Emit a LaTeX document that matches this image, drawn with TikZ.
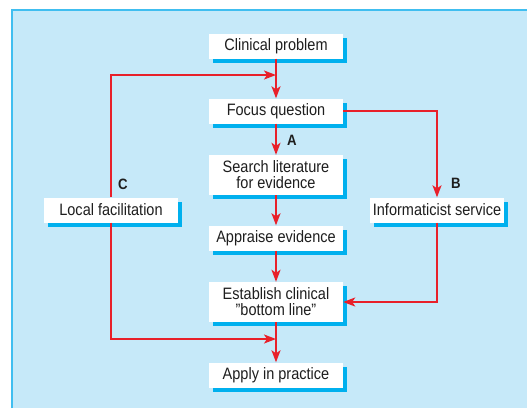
\documentclass[tikz,border=0pt]{standalone}
\usepackage{fontspec}
\setmainfont[FakeStretch=0.88]{Liberation Sans}
\usetikzlibrary{arrows.meta,shadows}
\definecolor{panelblue}{RGB}{198,233,249}
\definecolor{edgeblue}{RGB}{64,190,240}
\definecolor{shadeblue}{RGB}{0,176,238}
\definecolor{flowred}{RGB}{232,32,42}
\definecolor{inkgrey}{RGB}{30,30,30}
\begin{document}
\begin{tikzpicture}[x=1pt, y=-1pt,
    box/.style = {fill=white, text=inkgrey, align=center, minimum width=134pt, minimum height=25pt,
                  inner sep=0pt, font=\fontsize{16.5}{16}\selectfont,
                  drop shadow={shadow xshift=4pt, shadow yshift=-4pt, fill=shadeblue, opacity=1}},
    tall/.style = {minimum height=40pt},
    flow/.style = {draw=flowred, line width=1.8pt, -{Stealth[length=12pt, width=9pt, inset=3pt]}},
    lab/.style = {text=inkgrey, font=\fontsize{15}{15}\selectfont\bfseries, inner sep=0pt}]
  \useasboundingbox (0,0) rectangle (527,408);
  \fill[panelblue] (12,10) rectangle (527,408);
  \draw[edgeblue, line width=2pt] (12,408) -- (12,10) -- (527,10);

  \node[box] (cp) at (276,46) {Clinical problem};
  \node[box] (fq) at (276,111) {Focus question};
  \node[box, tall] (sl) at (276,175) {Search literature\\for evidence};
  \node[box] (ae) at (276,238) {Appraise evidence};
  \node[box, tall] (ec) at (276,302) {Establish clinical\\\char"22 bottom line\char"22};
  \node[box] (ap) at (276,375) {Apply in practice};
  \node[box, minimum width=134pt] (lf) at (111,210) {Local facilitation};
  \node[box, minimum width=134pt] (is) at (437,210) {Informaticist service};

  \coordinate (jt) at (276,75);
  \coordinate (jb) at (276,339);

  \draw[flow] (cp) -- (fq);
  \draw[flow] (fq) -- (sl);
  \draw[flow] (sl) -- (ae);
  \draw[flow] (ae) -- (ec);
  \draw[flow] (ec) -- (ap);
  \draw[flow] (lf) |- (jt);
  \draw[flow] (lf) |- (jb);
  \draw[flow] (fq) -| (is);
  \draw[flow] (is) |- (ec);

  \node[lab] (la) at (292,140) {A};
  \node[lab] (lb) at (456,183) {B};
  \node[lab] (lc) at (123,184) {C};
\end{tikzpicture}
\end{document}
